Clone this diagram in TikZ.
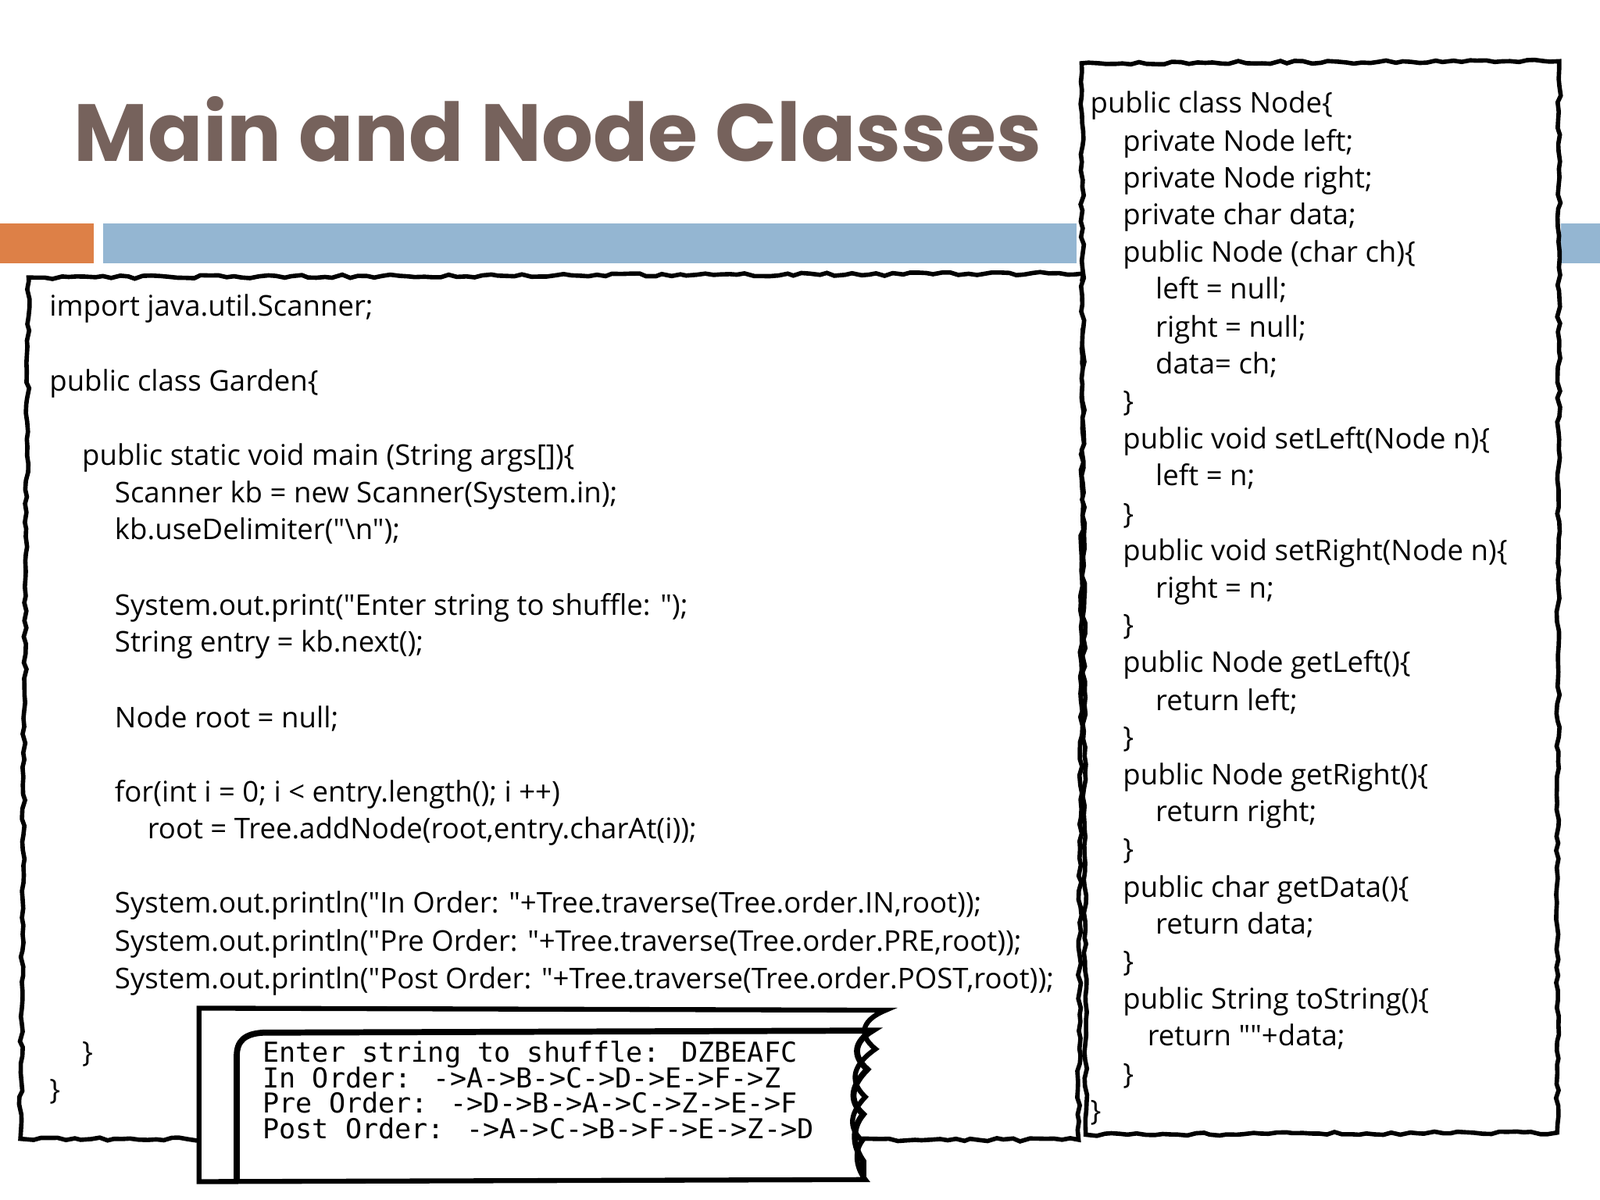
\documentclass[tikz,border=0pt]{standalone}
\usepackage{fontspec}
\setmainfont{Open Sans}[Ligatures=TeXOff]
\newfontfamily\titlefont{Poppins}
\newfontfamily\consfont{DejaVu Sans Mono}
\usetikzlibrary{decorations.pathmorphing}
\definecolor{titlec}{HTML}{76625C}
\definecolor{orangec}{HTML}{DD8047}
\definecolor{bluec}{HTML}{94B6D2}
\newcommand{\qq}{\char"22\relax}
\begin{document}
\begin{tikzpicture}[x=0.013061cm,y=-0.013061cm,
  rough/.style={draw=black,line width=1.6pt,fill=white,decorate,decoration={random steps,segment length=3pt,amplitude=0.6pt}},
  code/.style={anchor=base west,inner sep=0pt,font=\fontsize{10.4}{12}\selectfont},
  cons/.style={anchor=base west,inner sep=0pt,font=\consfont\fontsize{10}{12}\selectfont}]
\useasboundingbox[fill=white] (0,0) rectangle (1568,1176);
\node[anchor=base west,inner sep=0pt,text=titlec,font=\titlefont\bfseries\fontsize{29.5}{34}\selectfont] (title) at (72,158) {Main and Node Classes};
\fill[orangec] (0,219) rectangle (92,258);
\fill[bluec] (101,219) rectangle (1055,258);
\fill[bluec] (1530,219) rectangle (1568,258);
% left box
\path[rough] (28,272) -- (1062,268) -- (1057,1117) -- (20,1116) -- cycle;
% right box
\path[rough] (1060,62) -- (1528,60) -- (1526,1110) -- (1064,1112) -- cycle;
% left code
\foreach \y/\x/\t [count=\i] in {
310/48/{import java.util.Scanner;},
383/48/{public class Garden\{},
456/80/{public static void main (String args[])\{},
493/112/{Scanner kb = new Scanner(System.in);},
529/112/{kb.useDelimiter(\qq\textbackslash n\qq);},
603/112/{System.out.print(\qq Enter string to shuffle: \qq);},
639/112/{String entry = kb.next();},
713/112/{Node root = null;},
786/112/{for(int i = 0; i < entry.length(); i ++)},
822/144/{root = Tree.addNode(root,entry.charAt(i));},
895/112/{System.out.println(\qq In Order: \qq+Tree.traverse(Tree.order.IN,root));},
932/112/{System.out.println(\qq Pre Order: \qq+Tree.traverse(Tree.order.PRE,root));},
969/112/{System.out.println(\qq Post Order: \qq+Tree.traverse(Tree.order.POST,root));},
1041/80/{\}},
1078/48/{\}}}
  \node[code] (l\i) at (\x,\y) {\t};
% right code
\foreach \y/\x/\t [count=\i] in {
111/1068/{public class Node\{},
148/1100/{private Node left;},
184/1100/{private Node right;},
220/1100/{private char data;},
257/1100/{public Node (char ch)\{},
293/1132/{left = null;},
330/1132/{right = null;},
366/1132/{data= ch;},
403/1100/{\}},
440/1100/{public void setLeft(Node n)\{},
476/1132/{left = n;},
513/1100/{\}},
549/1100/{public void setRight(Node n)\{},
586/1132/{right = n;},
622/1100/{\}},
659/1100/{public Node getLeft()\{},
696/1132/{return left;},
732/1100/{\}},
769/1100/{public Node getRight()\{},
805/1132/{return right;},
842/1100/{\}},
879/1100/{public char getData()\{},
915/1132/{return data;},
952/1100/{\}},
989/1100/{public String toString()\{},
1025/1124/{return \qq\qq+data;},
1062/1100/{\}},
1098/1068/{\}}}
  \node[code] (r\i) at (\x,\y) {\t};
% console
\path[draw=black,line width=1.8pt,fill=white] (195,1158) -- (195,988) -- (868,990)
  .. controls (848,998) and (838,1012) .. (858,1028)
  .. controls (838,1042) and (830,1058) .. (848,1075)
  .. controls (834,1090) and (830,1104) .. (845,1118)
  .. controls (836,1130) and (840,1146) .. (848,1156) -- cycle;
\path[draw=black,line width=2.2pt] (232,1158) -- (232,1035) .. controls (232,1020) and (240,1013) .. (258,1012) -- (855,1010)
  .. controls (838,1020) and (834,1034) .. (850,1048)
  .. controls (836,1062) and (830,1078) .. (846,1092)
  .. controls (834,1106) and (836,1124) .. (846,1138) -- (846,1158);
\node[cons] (c1) at (257,1041) {Enter string to shuffle: DZBEAFC};
\node[cons] (c2) at (257,1066) {In Order: ->A->B->C->D->E->F->Z};
\node[cons] (c3) at (257,1091) {Pre Order: ->D->B->A->C->Z->E->F};
\node[cons] (c4) at (257,1116) {Post Order: ->A->C->B->F->E->Z->D};
\end{tikzpicture}
\end{document}
